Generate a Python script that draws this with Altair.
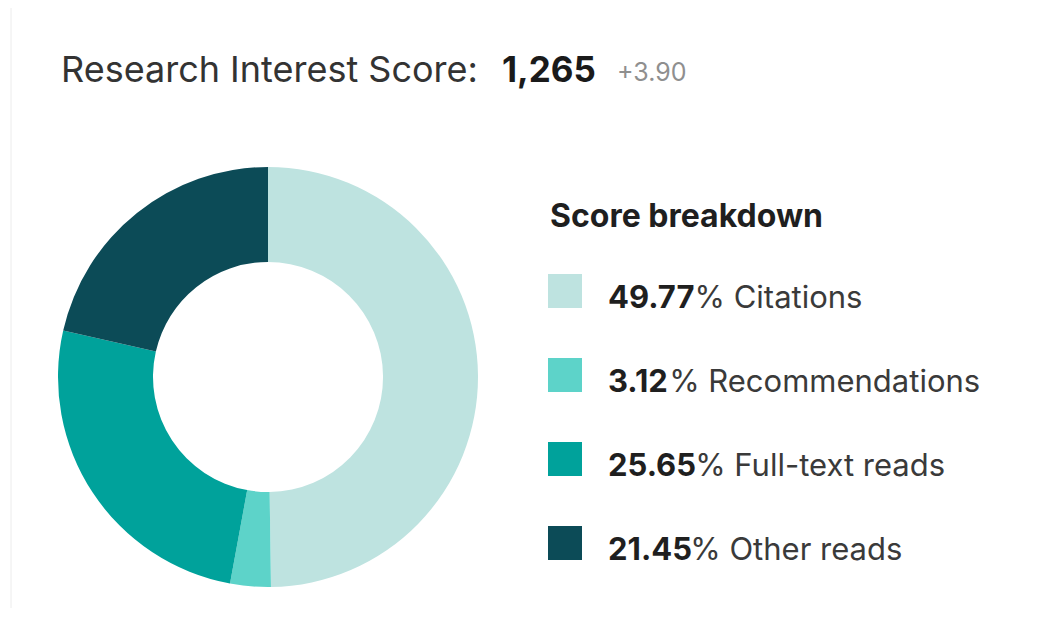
import altair as alt
import pandas as pd

# ---- data ----
categories = ["Citations", "Recommendations", "Full-text reads", "Other reads"]
shares = [49.77, 3.12, 25.65, 21.45]
colors = ["#BEE3E0", "#5DD3C9", "#00A29B", "#0C4B57"]
pct_labels = ["49.77", "3.12", "25.65", "21.45"]

title_main = "Research Interest Score:"
title_score = "1,265"
title_delta = "+3.90"
legend_title = "Score breakdown"

FONT = "Inter"
ROW_SIZE = 31

# rough advance widths (em) of Inter Bold characters, used to place the regular label after the bold number
bold_w = {"0": 0.64, "1": 0.44, "2": 0.60, "3": 0.60, "4": 0.66, "5": 0.62, "6": 0.64,
          "7": 0.58, "8": 0.64, "9": 0.64, ".": 0.30}
def bold_width(s):
    return sum(bold_w.get(c, 0.62) for c in s) * ROW_SIZE

TEXT_X = 600
df = pd.DataFrame({
    "cat": categories,
    "share": shares,
    "idx": list(range(len(categories))),
    "pct": pct_labels,
    "rest": ["% " + c for c in categories],
})
df["rest_x"] = [TEXT_X + bold_width(p) + 1 for p in pct_labels]

color_scale = alt.Scale(domain=categories, range=colors)
y_scale = alt.Scale(type="point", domain=categories, range=[283, 535], padding=0)

donut = alt.Chart(df).mark_arc(outerRadius=210, innerRadius=115).encode(
    theta=alt.Theta("share:Q", stack=True),
    color=alt.Color("cat:N", scale=color_scale, legend=None),
    order=alt.Order("idx:Q"),
    x=alt.value(260),
    y=alt.value(369),
)

squares = alt.Chart(df).mark_square(size=34 * 34, opacity=1).encode(
    x=alt.value(557),
    y=alt.Y("cat:N", scale=y_scale, axis=None),
    color=alt.Color("cat:N", scale=color_scale, legend=None),
)

pct_text = alt.Chart(df).mark_text(
    align="left", baseline="alphabetic", dy=17, font=FONT, fontSize=ROW_SIZE,
    fontWeight="bold", color="#1f1f1f"
).encode(
    x=alt.value(TEXT_X),
    y=alt.Y("cat:N", scale=y_scale, axis=None),
    text="pct:N",
)

rest_text = alt.Chart(df).mark_text(
    align="left", baseline="alphabetic", dy=17, font=FONT, fontSize=ROW_SIZE,
    fontWeight="normal", color="#3a3a3a"
).encode(
    x=alt.X("rest_x:Q", scale=None, axis=None),
    y=alt.Y("cat:N", scale=y_scale, axis=None),
    text="rest:N",
)

one = pd.DataFrame({"a": [0]})

def label(txt, x, y, size, weight, color):
    return alt.Chart(one).mark_text(
        align="left", baseline="alphabetic", font=FONT, fontSize=size,
        fontWeight=weight, color=color, text=txt
    ).encode(x=alt.value(x), y=alt.value(y))

t1 = label(title_main, 53, 74, 36, "normal", "#333333")
t2 = label(title_score, 494, 74, 35, "bold", "#1a1a1a")
t3 = label(title_delta, 609, 73, 25, "normal", "#8f8f8f")
lt = label(legend_title, 542, 219, 32, "bold", "#1f1f1f")

border_v = alt.Chart(one).mark_rule(color="#ececec", strokeWidth=1).encode(
    x=alt.value(3), y=alt.value(0), y2=alt.value(600)
)

chart = alt.layer(border_v, donut, squares, pct_text, rest_text, t1, t2, t3, lt).properties(
    width=1037, height=600,
    autosize=alt.AutoSizeParams(type="none"),
    padding=0,
).configure(background="white").configure_view(strokeWidth=0, stroke="transparent")

chart.save("out.html", embed_options={"renderer": "svg", "actions": False})
